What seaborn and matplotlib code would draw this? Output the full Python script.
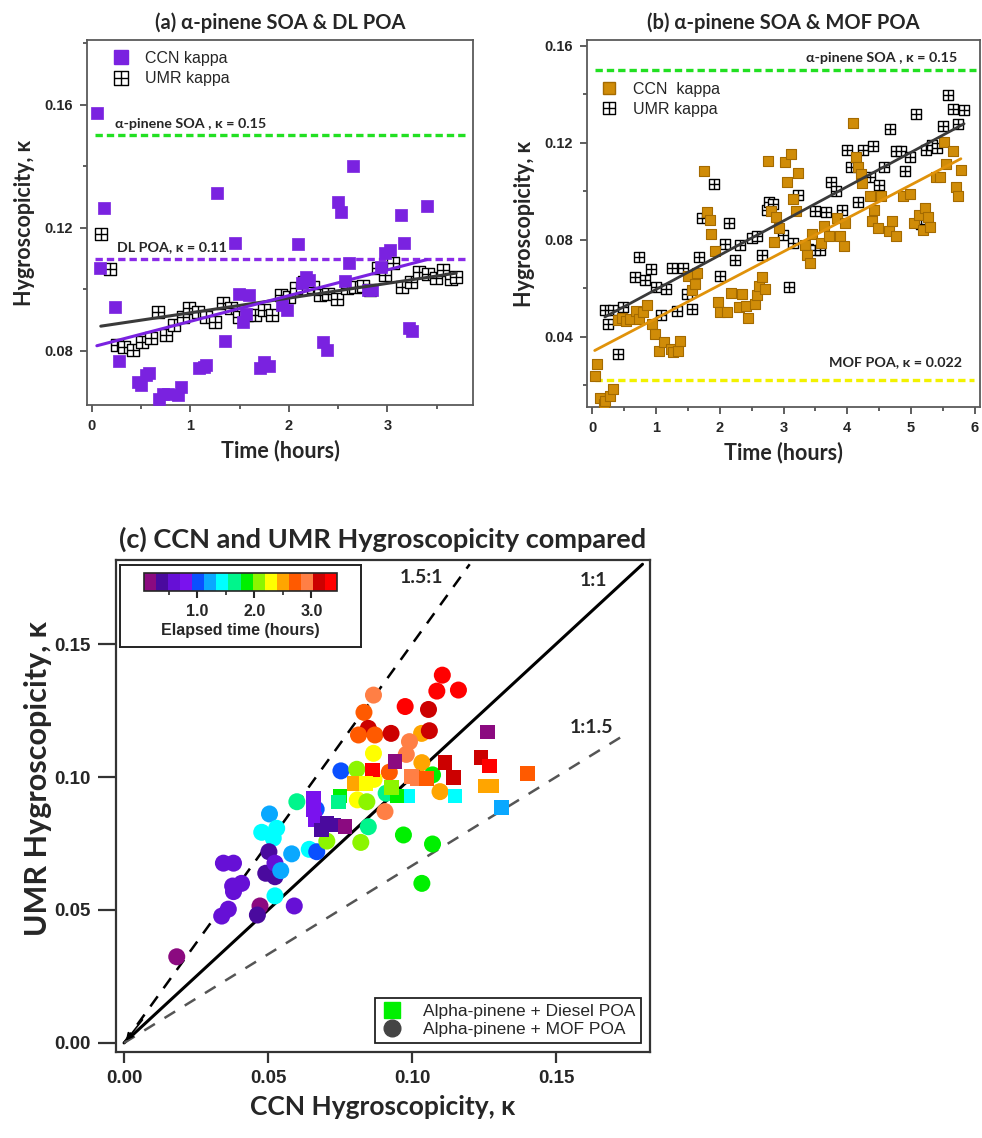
import numpy as np
import pandas as pd
import matplotlib
matplotlib.use("Agg")
import matplotlib.pyplot as plt
from matplotlib.path import Path
from matplotlib.lines import Line2D
from matplotlib.colors import ListedColormap, BoundaryNorm
from matplotlib.cm import ScalarMappable
from matplotlib.ticker import MultipleLocator
import seaborn as sns

# -----------------------------
# Data: panel (a) alpha-pinene SOA + DL POA
# -----------------------------
a_ccn_time = [0.05, 0.12, 0.08, 0.23, 0.27, 0.47, 0.50, 0.55, 0.58, 0.68,
              0.72, 0.77, 0.87, 0.90, 1.09, 1.14, 1.16, 1.27, 1.35, 1.45,
              1.49, 1.53, 1.57, 1.60, 1.71, 1.75, 1.80, 1.93, 1.98, 2.09,
              2.13, 2.17, 2.20, 2.35, 2.39, 2.50, 2.53, 2.57, 2.61, 2.65,
              2.80, 2.84, 2.94, 2.98, 3.03, 3.14, 3.17, 3.22, 3.25, 3.40]
a_ccn_kappa = [0.1572, 0.1263, 0.1068, 0.0943, 0.0766, 0.0699, 0.0688, 0.0721, 0.0728, 0.0645,
               0.0661, 0.0661, 0.0656, 0.0683, 0.0743, 0.0748, 0.0753, 0.1314, 0.0832, 0.1152,
               0.0986, 0.0894, 0.0921, 0.0981, 0.0743, 0.0764, 0.0751, 0.0949, 0.0932, 0.1146,
               0.1019, 0.1041, 0.1030, 0.0829, 0.0802, 0.1285, 0.1252, 0.1028, 0.1087, 0.1402,
               0.0997, 0.0999, 0.1073, 0.1117, 0.1127, 0.1241, 0.1149, 0.0873, 0.0865, 0.1272]

a_umr_time = [0.09, 0.18, 0.25, 0.33, 0.42, 0.51, 0.60, 0.67, 0.75, 0.83,
              0.92, 0.99, 1.08, 1.16, 1.25, 1.33, 1.41, 1.49, 1.58, 1.66,
              1.75, 1.83, 1.92, 2.00, 2.07, 2.15, 2.25, 2.32, 2.40, 2.49,
              2.59, 2.67, 2.75, 2.82, 2.91, 2.98, 3.06, 3.15, 3.24, 3.32,
              3.41, 3.49, 3.57, 3.65, 3.70]
a_umr_kappa = [0.1179, 0.1065, 0.0818, 0.0811, 0.0802, 0.0829, 0.0843, 0.0927, 0.0851, 0.0883,
               0.0911, 0.0938, 0.0927, 0.0911, 0.0894, 0.0954, 0.0938, 0.0911, 0.0916, 0.0916,
               0.0932, 0.0916, 0.0981, 0.0976, 0.1003, 0.1024, 0.1008, 0.0981, 0.0984, 0.0970,
               0.1003, 0.1008, 0.1010, 0.0997, 0.1068, 0.1046, 0.1084, 0.1006, 0.1024, 0.1057,
               0.1051, 0.1038, 0.1062, 0.1032, 0.1040]

# -----------------------------
# Data: panel (b) alpha-pinene SOA + MOF POA
# -----------------------------
b_ccn_time = [0.04, 0.07, 0.13, 0.18, 0.20, 0.28, 0.33, 0.40, 0.47, 0.53,
              0.60, 0.68, 0.74, 0.80, 0.86, 0.94, 0.99, 1.05, 1.12, 1.23,
              1.26, 1.35, 1.38, 1.51, 1.56, 1.61, 1.64, 1.76, 1.80, 1.84,
              1.87, 1.92, 1.98, 2.01, 2.11, 2.17, 2.30, 2.35, 2.41, 2.44,
              2.55, 2.59, 2.61, 2.67, 2.71, 2.76, 2.80, 2.85, 2.88, 2.93,
              3.03, 3.06, 3.11, 3.15, 3.19, 3.22, 3.34, 3.37, 3.41, 3.45,
              3.58, 3.63, 3.71, 3.84, 3.89, 3.94, 3.97, 4.09, 4.13, 4.17,
              4.21, 4.23, 4.35, 4.38, 4.42, 4.48, 4.53, 4.65, 4.70, 4.76,
              4.88, 4.98, 5.04, 5.12, 5.18, 5.21, 5.26, 5.29, 5.39, 5.45,
              5.51, 5.55, 5.66, 5.70, 5.74, 5.78]
b_ccn_kappa = [0.0238, 0.0286, 0.0149, 0.0122, 0.0135, 0.0156, 0.0183, 0.0470, 0.0478, 0.0465,
               0.0471, 0.0505, 0.0471, 0.0500, 0.0529, 0.0451, 0.0410, 0.0341, 0.0379, 0.0348,
               0.0337, 0.0341, 0.0382, 0.0651, 0.0591, 0.0618, 0.0663, 0.1084, 0.0913, 0.0880,
               0.0825, 0.0755, 0.0544, 0.0501, 0.0501, 0.0581, 0.0522, 0.0577, 0.0526, 0.0478,
               0.0533, 0.0574, 0.0608, 0.0645, 0.0598, 0.1126, 0.0917, 0.0789, 0.0896, 0.0849,
               0.1123, 0.1038, 0.1153, 0.0969, 0.0917, 0.1075, 0.0780, 0.0739, 0.0705, 0.0825,
               0.0787, 0.0855, 0.0814, 0.0890, 0.0814, 0.0773, 0.0869, 0.1281, 0.1143, 0.1100,
               0.1072, 0.1034, 0.0981, 0.0876, 0.0921, 0.0849, 0.0981, 0.0835, 0.0876, 0.0817,
               0.0981, 0.0990, 0.0869, 0.0903, 0.0842, 0.0931, 0.0896, 0.0853, 0.1061, 0.1061,
               0.1205, 0.1112, 0.1167, 0.1017, 0.0979, 0.1088]

b_umr_time = [0.20, 0.25, 0.33, 0.41, 0.49, 0.67, 0.74, 0.83, 0.92, 1.00,
              1.08, 1.16, 1.25, 1.33, 1.42, 1.49, 1.57, 1.67, 1.72, 1.91,
              2.00, 2.08, 2.15, 2.24, 2.32, 2.51, 2.59, 2.67, 2.74, 2.77,
              2.84, 2.99, 3.08, 3.15, 3.23, 3.38, 3.50, 3.50, 3.57, 3.67,
              3.75, 3.83, 3.92, 4.00, 4.06, 4.16, 4.25, 4.35, 4.40, 4.50,
              4.57, 4.67, 4.76, 4.84, 4.91, 4.99, 5.08, 5.15, 5.24, 5.33,
              5.41, 5.50, 5.58, 5.66, 5.74, 5.83]
b_umr_kappa = [0.0512, 0.0451, 0.0512, 0.0327, 0.0522, 0.0645, 0.0728, 0.0632, 0.0680, 0.0606,
               0.0488, 0.0598, 0.0684, 0.0508, 0.0684, 0.0577, 0.0516, 0.0728, 0.0890, 0.1031,
               0.0652, 0.0783, 0.0869, 0.0718, 0.0780, 0.0807, 0.0817, 0.0736, 0.0921, 0.0954,
               0.0949, 0.0821, 0.0606, 0.0787, 0.0986, 0.0760, 0.0759, 0.0917, 0.0756, 0.0913,
               0.1040, 0.1002, 0.0924, 0.1171, 0.1100, 0.0956, 0.1171, 0.1061, 0.1187, 0.1027,
               0.1100, 0.1256, 0.1168, 0.1168, 0.1086, 0.1141, 0.1318, 0.0865, 0.1171, 0.1191,
               0.1178, 0.1270, 0.1397, 0.1338, 0.1277, 0.1335]

# reference kappa values of the pure components
SOA_KAPPA = 0.15
DL_POA_KAPPA = 0.11
MOF_POA_KAPPA = 0.022

# -----------------------------
# Data: panel (c) CCN vs UMR kappa, coloured by elapsed time (hours)
# -----------------------------
c_mof_ccn = [0.1105, 0.1086, 0.1161, 0.0866, 0.0976, 0.1057, 0.0833, 0.0848, 0.0814, 0.0871,
             0.0927, 0.1033, 0.1060, 0.0991, 0.0980, 0.0866, 0.0753, 0.0808, 0.0921, 0.0868,
             0.1034, 0.1071, 0.1097, 0.0600, 0.0667, 0.0810, 0.0843, 0.0910, 0.0505, 0.0906,
             0.0970, 0.1071, 0.1034, 0.0478, 0.0530, 0.0518, 0.0503, 0.0582, 0.0643, 0.0669,
             0.0704, 0.0822, 0.0848, 0.0345, 0.0380, 0.0377, 0.0408, 0.0380, 0.0362, 0.0339,
             0.0492, 0.0524, 0.0524, 0.0544, 0.0524, 0.0472, 0.0463, 0.0591, 0.0183]
c_mof_umr = [0.1383, 0.1323, 0.1327, 0.1308, 0.1265, 0.1254, 0.1243, 0.1183, 0.1158, 0.1158,
             0.1164, 0.1164, 0.1174, 0.1133, 0.1085, 0.1089, 0.1023, 0.1029, 0.1018, 0.0991,
             0.1054, 0.1008, 0.0945, 0.0907, 0.0879, 0.0914, 0.0907, 0.0939, 0.0861, 0.0870,
             0.0782, 0.0748, 0.0600, 0.0792, 0.0807, 0.0770, 0.0719, 0.0711, 0.0728, 0.0719,
             0.0759, 0.0754, 0.0813, 0.0676, 0.0676, 0.0590, 0.0600, 0.0569, 0.0503, 0.0477,
             0.0638, 0.0625, 0.0676, 0.0648, 0.0553, 0.0515, 0.0481, 0.0515, 0.0324]
c_mof_time = [3.35, 3.35, 3.35, 2.92, 3.35, 3.14, 2.71, 3.14, 2.71, 2.71,
              3.14, 2.50, 3.14, 2.92, 2.92, 2.29, 1.02, 2.08, 2.71, 2.29,
              2.50, 1.87, 2.50, 1.65, 1.02, 2.29, 2.08, 1.65, 1.23, 2.92,
              1.87, 1.87, 1.87, 1.44, 1.44, 1.44, 0.39, 1.23, 1.44, 1.02,
              2.08, 2.08, 1.65, 0.60, 0.60, 0.60, 0.60, 0.60, 0.60, 0.60,
              0.39, 0.39, 0.60, 1.23, 1.44, 0.18, 0.39, 0.60, 0.18]

c_dl_ccn = [0.1262, 0.0941, 0.1240, 0.1269, 0.1400, 0.1255, 0.1275, 0.1115, 0.1143, 0.0863,
            0.0799, 0.0999, 0.1149, 0.0985, 0.1311, 0.0750, 0.0744, 0.0657, 0.0657, 0.0663,
            0.0704, 0.0727, 0.0767, 0.0686, 0.0840, 0.1017, 0.0948, 0.0929, 0.1050]
c_dl_umr = [0.1170, 0.1058, 0.1074, 0.1041, 0.1014, 0.0966, 0.0966, 0.1054, 0.0999, 0.1026,
            0.0976, 0.1001, 0.0929, 0.0929, 0.0886, 0.0929, 0.0906, 0.0921, 0.0876, 0.0841,
            0.0826, 0.0820, 0.0813, 0.0801, 0.0976, 0.0992, 0.0929, 0.0961, 0.0995]
c_dl_time = [0.18, 0.18, 3.14, 3.35, 2.71, 2.50, 2.50, 3.14, 3.14, 3.35,
             2.50, 2.92, 1.44, 1.44, 1.23, 1.87, 1.65, 0.81, 0.81, 0.81,
             0.39, 0.39, 0.18, 0.39, 2.29, 2.92, 1.87, 2.08, 2.71]

# ratio lines: slope of UMR vs CCN, and where each line stops
ratio_slopes = [1.5, 1.0, 1 / 1.5]
ratio_xmax = [0.12, 0.18, 0.175]
ratio_labels = ["1.5:1", "1:1", "1:1.5"]

# discrete colour scale of the elapsed-time bar
time_colors = ["#8B0A80", "#4A0A9E", "#6610D6", "#7A12EE", "#0A50FF", "#0AA8FF",
               "#00FFFF", "#00F58C", "#00F000", "#8CF500", "#FFFF00", "#FFA500",
               "#FF5A00", "#FF7F45", "#CC0000", "#FF0000"]
time_min, time_max = 0.07, 3.45

# -----------------------------
# Style
# -----------------------------
sns.set_style("ticks")
plt.rcParams["font.family"] = ["Liberation Sans", "DejaVu Sans"]
HEAD = ["Lato", "DejaVu Sans"]

PURPLE = "#7A22E0"
GOLD = "#D08C08"
GOLD_EDGE = "#A46A00"
FIT_GREY = "#3A3A3A"

# open square with a cross in it, used for the UMR points
umr_marker = Path(
    [(-1, -1), (1, -1), (1, 1), (-1, 1), (-1, -1), (0, -1), (0, 1), (-1, 0), (1, 0)],
    [Path.MOVETO, Path.LINETO, Path.LINETO, Path.LINETO, Path.CLOSEPOLY,
     Path.MOVETO, Path.LINETO, Path.MOVETO, Path.LINETO],
)


def style_time_axes(ax):
    for sp in ax.spines.values():
        sp.set_color("#5a5a5a")
        sp.set_linewidth(1.3)
    ax.tick_params(which="both", direction="out", color="#333333", width=1.1,
                   left=True, bottom=True, labelsize=10.5, pad=5)
    ax.tick_params(which="major", length=5)
    ax.tick_params(which="minor", length=3)
    for lab in ax.get_xticklabels() + ax.get_yticklabels():
        lab.set_fontweight("bold")


fig = plt.figure(figsize=(9.82, 11.38), dpi=100)

# -----------------------------
# Panel (a)
# -----------------------------
ax_a = fig.add_axes([0.0886, 0.6441, 0.393, 0.3207])

sns.scatterplot(x=a_umr_time, y=a_umr_kappa, marker=umr_marker, s=72, color="white",
                edgecolor="black", linewidth=1.0, ax=ax_a, zorder=3)
sns.scatterplot(x=a_ccn_time, y=a_ccn_kappa, marker="s", s=72, color=PURPLE,
                edgecolor=PURPLE, linewidth=0.5, ax=ax_a, zorder=4)
sns.regplot(x=a_umr_time, y=a_umr_kappa, ax=ax_a, scatter=False, ci=None,
            color=FIT_GREY, line_kws={"lw": 2.2, "zorder": 5})
sns.regplot(x=a_ccn_time, y=a_ccn_kappa, ax=ax_a, scatter=False, ci=None,
            color=PURPLE, line_kws={"lw": 2.2, "zorder": 5})

ax_a.axhline(SOA_KAPPA, xmin=0.02, xmax=0.985, color="#22E022", lw=2.4, ls=(0, (2.2, 1.2)))
ax_a.axhline(DL_POA_KAPPA, xmin=0.02, xmax=0.985, color="#8A2BE8", lw=2.4, ls=(0, (2.2, 1.2)))
ax_a.text(0.23, SOA_KAPPA + 0.0036, "α-pinene SOA , κ = " + str(SOA_KAPPA), family=HEAD,
          fontweight="bold", fontsize=10.3, va="center")
ax_a.text(0.25, DL_POA_KAPPA + 0.0038, "DL POA, κ = " + str(DL_POA_KAPPA), family=HEAD,
          fontweight="bold", fontsize=10.3, va="center")

ax_a.set_xlim(-0.05, 3.87)
ax_a.set_ylim(0.0624, 0.181)
ax_a.set_xticks([0, 1, 2, 3])
ax_a.set_yticks([0.08, 0.12, 0.16])
ax_a.xaxis.set_minor_locator(MultipleLocator(0.5))
ax_a.yaxis.set_minor_locator(MultipleLocator(0.02))
ax_a.set_xlabel("Time (hours)", family=HEAD, fontweight="bold", fontsize=15.5, labelpad=5)
ax_a.set_ylabel("Hygroscopicity, κ", family=HEAD, fontweight="bold", fontsize=15.5, labelpad=7)
ax_a.set_title("(a) α-pinene SOA & DL POA", family=HEAD, fontweight="bold", fontsize=14.5, pad=8)
style_time_axes(ax_a)

leg_a = [Line2D([], [], ls="", marker="s", ms=9.5, color=PURPLE),
         Line2D([], [], ls="", marker=umr_marker, ms=9.5, mfc="white", mec="black", mew=1.0)]
ax_a.legend(leg_a, ["CCN kappa", "UMR kappa"], loc="upper left", bbox_to_anchor=(0.03, 1.01),
            frameon=False, fontsize=11.5, handlelength=1.0, handletextpad=1.0, labelspacing=0.35)

# -----------------------------
# Panel (b)
# -----------------------------
ax_b = fig.add_axes([0.5978, 0.6424, 0.4002, 0.3225])

sns.scatterplot(x=b_umr_time, y=b_umr_kappa, marker=umr_marker, s=58, color="white",
                edgecolor="black", linewidth=1.0, ax=ax_b, zorder=3)
sns.scatterplot(x=b_ccn_time, y=b_ccn_kappa, marker="s", s=58, color=GOLD,
                edgecolor=GOLD_EDGE, linewidth=0.8, ax=ax_b, zorder=4)
sns.regplot(x=b_umr_time, y=b_umr_kappa, ax=ax_b, scatter=False, ci=None,
            color=FIT_GREY, line_kws={"lw": 2.0, "zorder": 5})
sns.regplot(x=b_ccn_time, y=b_ccn_kappa, ax=ax_b, scatter=False, ci=None,
            color="#E0920A", line_kws={"lw": 2.0, "zorder": 5})

ax_b.axhline(SOA_KAPPA, xmin=0.02, xmax=0.99, color="#22E022", lw=2.4, ls=(0, (2.2, 1.2)))
ax_b.axhline(MOF_POA_KAPPA, xmin=0.02, xmax=0.985, color="#F2F200", lw=2.4, ls=(0, (2.2, 1.2)))
ax_b.text(5.72, SOA_KAPPA + 0.0052, "α-pinene SOA , κ = " + str(SOA_KAPPA), family=HEAD,
          fontweight="bold", fontsize=10.3, va="center", ha="right")
ax_b.text(5.80, MOF_POA_KAPPA + 0.0074, "MOF POA, κ = " + str(MOF_POA_KAPPA), family=HEAD,
          fontweight="bold", fontsize=10.3, va="center", ha="right")

ax_b.set_xlim(-0.08, 6.08)
ax_b.set_ylim(0.011, 0.1625)
ax_b.set_xticks([0, 1, 2, 3, 4, 5, 6])
ax_b.set_yticks([0.04, 0.08, 0.12, 0.16])
ax_b.xaxis.set_minor_locator(MultipleLocator(0.5))
ax_b.yaxis.set_minor_locator(MultipleLocator(0.02))
ax_b.set_xlabel("Time (hours)", family=HEAD, fontweight="bold", fontsize=15.5, labelpad=5)
ax_b.set_ylabel("Hygroscopicity, κ", family=HEAD, fontweight="bold", fontsize=15.5, labelpad=7)
ax_b.set_title("(b) α-pinene SOA & MOF POA", family=HEAD, fontweight="bold", fontsize=14.5, pad=8)
style_time_axes(ax_b)

leg_b = [Line2D([], [], ls="", marker="s", ms=9, color=GOLD, mec=GOLD_EDGE),
         Line2D([], [], ls="", marker=umr_marker, ms=9, mfc="white", mec="black", mew=1.0)]
ax_b.legend(leg_b, ["CCN  kappa", "UMR kappa"], loc="upper left", bbox_to_anchor=(0.0, 0.925),
            frameon=False, fontsize=11.5, handlelength=1.0, handletextpad=1.0, labelspacing=0.3)

# -----------------------------
# Panel (c)
# -----------------------------
ax_c = fig.add_axes([0.1181, 0.0756, 0.5438, 0.4323])

time_cmap = ListedColormap(time_colors)
time_norm = BoundaryNorm(np.linspace(time_min, time_max, len(time_colors) + 1), time_cmap.N)

mof_df = pd.DataFrame({"ccn": c_mof_ccn, "umr": c_mof_umr, "time": c_mof_time})
dl_df = pd.DataFrame({"ccn": c_dl_ccn, "umr": c_dl_umr, "time": c_dl_time})

line_styles = [dict(color="black", lw=1.8, ls=(0, (5, 4))),
               dict(color="black", lw=2.2, ls="-"),
               dict(color="#555555", lw=1.8, ls=(0, (5, 4.5)))]
for slope, xmax, kw in zip(ratio_slopes, ratio_xmax, line_styles):
    ax_c.plot([0, xmax], [0, slope * xmax], zorder=2, **kw)

sns.scatterplot(data=mof_df, x="ccn", y="umr", hue="time", palette=time_cmap, hue_norm=time_norm,
                marker="o", s=150, linewidth=0, legend=False, ax=ax_c, zorder=3)
sns.scatterplot(data=dl_df, x="ccn", y="umr", hue="time", palette=time_cmap, hue_norm=time_norm,
                marker="s", s=110, linewidth=0, legend=False, ax=ax_c, zorder=3)

ax_c.annotate("", xy=(0, 0), xytext=(0.007, 0.0095),
              arrowprops=dict(arrowstyle="-|>", color="black", lw=1.2, mutation_scale=11))

ax_c.text(0.0958, 0.1752, ratio_labels[0], family=HEAD, fontweight="bold", fontsize=14, va="center")
ax_c.text(0.1583, 0.1740, ratio_labels[1], family=HEAD, fontweight="bold", fontsize=14, va="center")
ax_c.text(0.1549, 0.1188, ratio_labels[2], family=HEAD, fontweight="bold", fontsize=14, va="center")

ax_c.set_xlim(-0.0028, 0.1826)
ax_c.set_ylim(-0.0034, 0.1816)
ax_c.set_xticks([0, 0.05, 0.10, 0.15])
ax_c.set_yticks([0, 0.05, 0.10, 0.15])
for sp in ax_c.spines.values():
    sp.set_color("#333333")
    sp.set_linewidth(1.6)
ax_c.tick_params(direction="out", length=8, width=1.6, labelsize=13.5, pad=5, color="#333333")
ax_c.tick_params(axis="y", length=13)
for lab in ax_c.get_xticklabels() + ax_c.get_yticklabels():
    lab.set_fontweight("bold")
ax_c.set_xlabel("CCN Hygroscopicity, κ", family=HEAD, fontweight="bold", fontsize=19, labelpad=6)
ax_c.set_ylabel("UMR Hygroscopicity, κ", family=HEAD, fontweight="bold", fontsize=22)
ax_c.yaxis.set_label_coords(-0.12, 0.555)
ax_c.set_title("(c) CCN and UMR Hygroscopicity compared", family=HEAD, fontweight="bold",
               fontsize=19.5, pad=9)

leg_c = [Line2D([], [], ls="", marker="s", ms=11, color="#00F000"),
         Line2D([], [], ls="", marker="o", ms=12, color="#444444")]
lg = ax_c.legend(leg_c, ["Alpha-pinene + Diesel POA", "Alpha-pinene + MOF POA"], loc="lower right",
                 fontsize=12.5, fancybox=False, framealpha=1, edgecolor="#222222",
                 handlelength=1.2, handletextpad=1.2, labelspacing=0.15, borderpad=0.35,
                 borderaxespad=0.5)
lg.get_frame().set_linewidth(1.3)

# elapsed-time colour bar inside its own box
box_ax = fig.add_axes([120 / 982, 1 - 647 / 1138, 241 / 982, 82 / 1138])
box_ax.set_xticks([])
box_ax.set_yticks([])
for sp in box_ax.spines.values():
    sp.set_color("#222222")
    sp.set_linewidth(1.4)
box_ax.text(0.5, 0.2, "Elapsed time (hours)", transform=box_ax.transAxes, ha="center",
            va="center", fontweight="bold", fontsize=11.5)

cax = fig.add_axes([144 / 982, 1 - 591 / 1138, 193 / 982, 18 / 1138])
cb = fig.colorbar(ScalarMappable(norm=time_norm, cmap=time_cmap), cax=cax,
                  orientation="horizontal", ticks=[1, 2, 3], format="%.1f")
cb.set_ticks([0.5, 1.5, 2.5], minor=True)
cb.outline.set_linewidth(1.2)
cax.tick_params(which="major", length=5, width=1.5, labelsize=11.5, pad=4)
cax.tick_params(which="minor", length=3, width=1.2)
for lab in cax.get_xticklabels():
    lab.set_fontweight("bold")

plt.savefig("out.png", dpi=100)
